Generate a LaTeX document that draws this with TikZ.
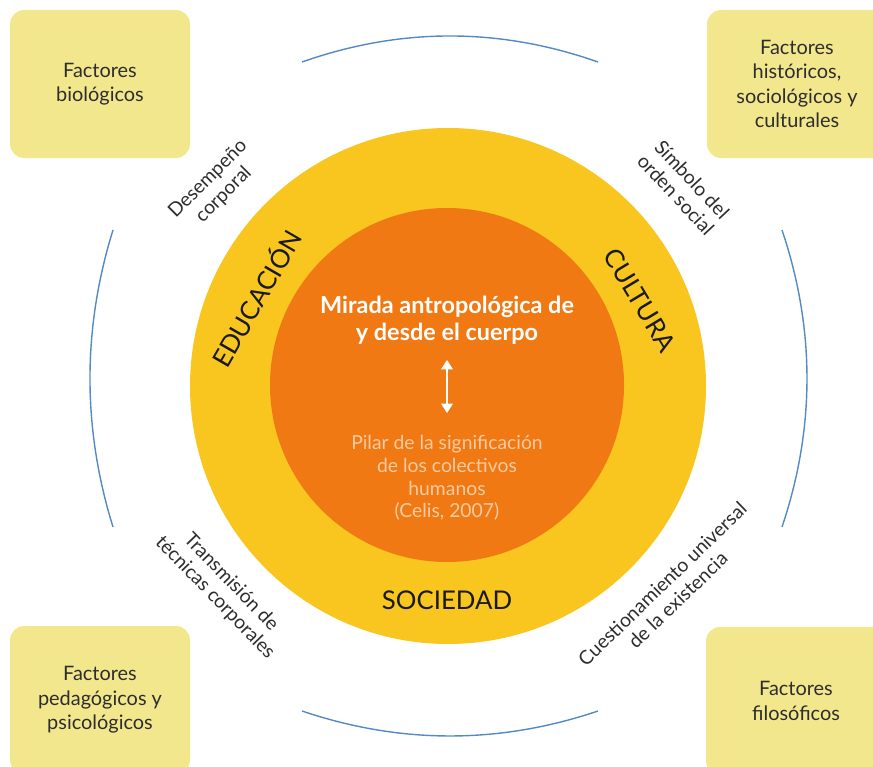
\documentclass[tikz,border=0pt]{standalone}
\usepackage{fontspec}
\setmainfont{Lato}
\usetikzlibrary{arrows.meta}

\definecolor{boxyellow}{RGB}{243,231,141}
\definecolor{ringyellow}{RGB}{248,198,30}
\definecolor{coreorange}{RGB}{240,121,20}
\definecolor{arcblue}{RGB}{84,138,196}
\definecolor{inktext}{RGB}{45,45,45}
\definecolor{peach}{RGB}{250,203,160}

\tikzset{
  factor/.style={fill=boxyellow, rounded corners=0.42cm, minimum width=5.4cm, minimum height=4.44cm,
    align=center, text=inktext, font=\fontsize{17}{21}\selectfont},
  tag/.style={align=center, text=inktext, font=\fontsize{16.5}{19}\selectfont},
  ringword/.style={text=black!90, font=\fontsize{22}{24}\selectfont},
  arcline/.style={arcblue, line width=1.2pt}
}

\begin{document}
\begin{tikzpicture}[x=0.03cm, y=-0.03cm]
\clip (0,0) rectangle (873,767);

% Corner boxes
\node[factor] (bio) at (100,84) {Factores\\biológicos};
\node[factor] (hist) at (797,84) {Factores\\históricos,\\sociológicos y\\culturales};
\node[factor] (peda) at (100,700) {Factores\\pedagógicos y\\psicológicos};
\node[factor] (filo) at (796,701) {Factores\\filosóficos};

% Outer arcs
\draw[arcline] (302,62) .. controls (400.7,27.3) and (499.3,27.3) .. (598,62);
\draw[arcline] (302,711) .. controls (400.7,744.3) and (499.3,744.3) .. (598,711);
\draw[arcline] (113,230) .. controls (82.3,329) and (82.3,428) .. (113,527);
\draw[arcline] (782,230) .. controls (815.3,329) and (815.3,428) .. (782,527);

% Rings
\fill[ringyellow] (448,386) circle (258);
\fill[coreorange] (447,385) circle (177);

% Ring words
\node[ringword, rotate=60] (edu) at (255,298) {EDUCACIÓN};
\node[ringword, rotate=-59] (cul) at (640,300) {CULTURA};
\node[ringword] (soc) at (447,600) {SOCIEDAD};

% Labels between rings and arcs
\node[tag, rotate=45] (desem) at (216,187) {Desempeño\\corporal};
\node[tag, rotate=-47] (simb) at (684,187) {Símbolo del\\orden social};
\node[tag, rotate=-46] (trans) at (223,590) {Transmisión de\\técnicas corporales};
\node[tag, rotate=44] (cuest) at (670,592) {Cuestionamiento universal\\de la existencia};

% Core
\node[align=center, text=white, font=\bfseries\fontsize{20}{23}\selectfont] (mirada) at (447,320)
  {Mirada antropológica de\\y desde el cuerpo};
\coordinate (arrtop) at (447,360);
\coordinate (arrbot) at (447,413);
\draw[white, line width=1.2pt, {Triangle[width=10pt,length=8pt]}-{Triangle[width=10pt,length=8pt]}] (arrtop) -- (arrbot);
\node[align=center, text=peach, font=\fontsize{16.5}{19.5}\selectfont] (pilar) at (447,478)
  {Pilar de la significación\\de los colectivos\\humanos\\(Celis, 2007)};
\end{tikzpicture}
\end{document}
